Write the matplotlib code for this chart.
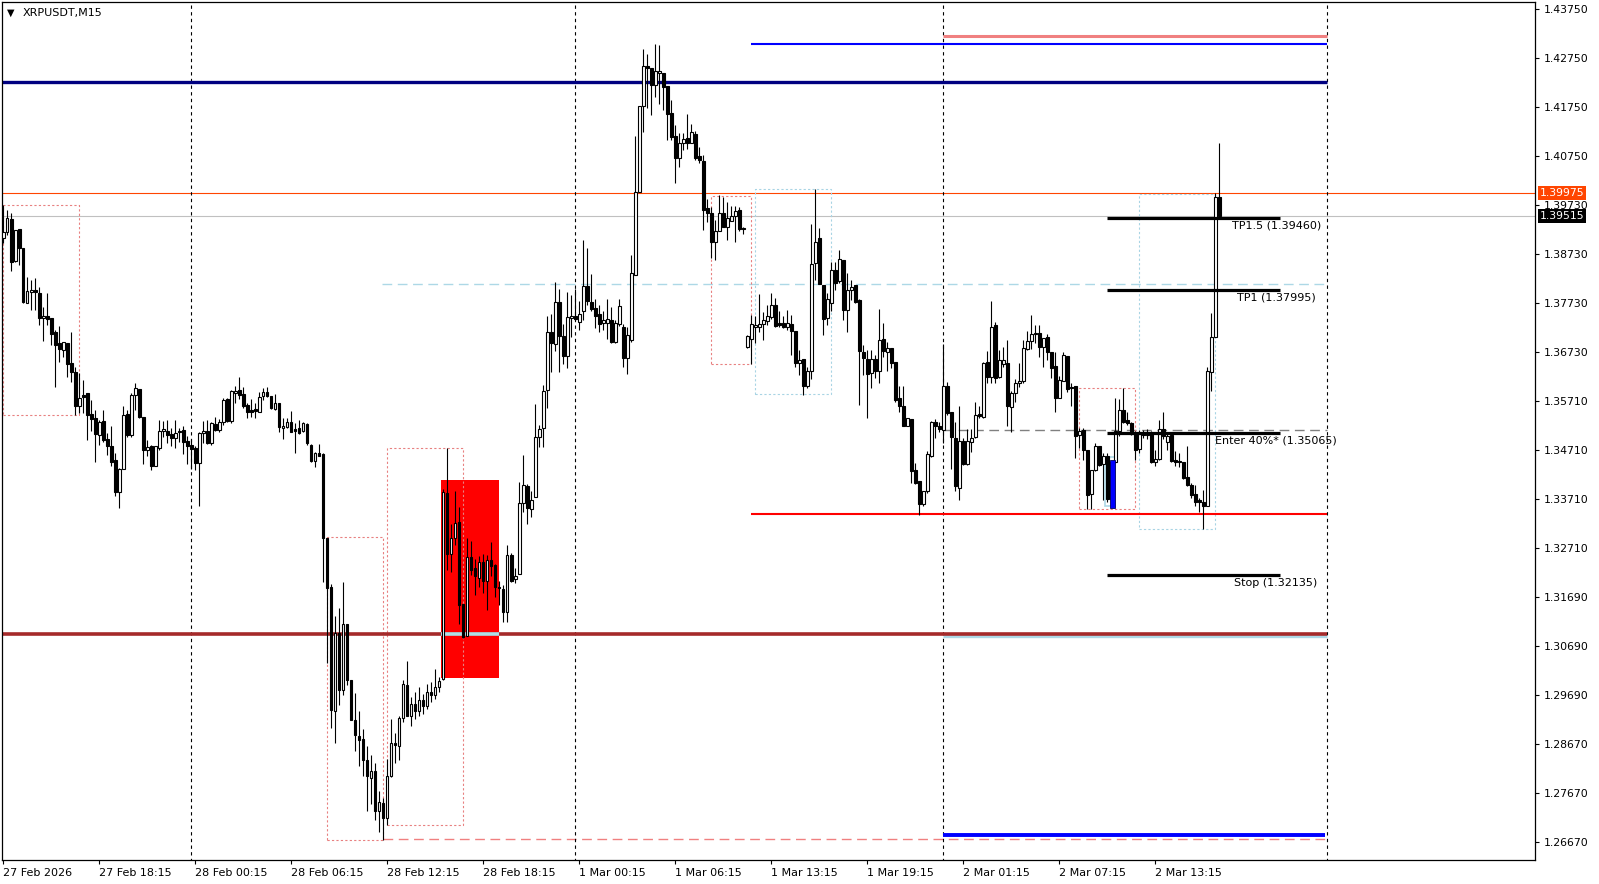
import numpy as np
import matplotlib
matplotlib.use("Agg")
import matplotlib.pyplot as plt
import matplotlib.transforms as mtransforms
from matplotlib.patches import Rectangle

# ====================== DATA (XRPUSDT M15) ======================

opens = [
    1.3906, 1.3917, 1.3944, 1.3858, 1.3923, 1.3884, 1.3773, 1.3794, 1.3799, 1.3792,
    1.3741, 1.3746, 1.3741, 1.3713, 1.3690, 1.3675, 1.3690, 1.3649, 1.3631, 1.3560,
    1.3584, 1.3587, 1.3544, 1.3536, 1.3501, 1.3531, 1.3494, 1.3480, 1.3451, 1.3384,
    1.3432, 1.3545, 1.3502, 1.3583, 1.3596, 1.3539, 1.3470, 1.3479, 1.3439, 1.3475,
    1.3509, 1.3510, 1.3504, 1.3496, 1.3510, 1.3512, 1.3489, 1.3481, 1.3475, 1.3444,
    1.3505, 1.3510, 1.3486, 1.3524, 1.3511, 1.3529, 1.3575, 1.3530, 1.3588, 1.3594,
    1.3586, 1.3563, 1.3553, 1.3554, 1.3549, 1.3581, 1.3590, 1.3581, 1.3554, 1.3567,
    1.3515, 1.3517, 1.3529, 1.3513, 1.3515, 1.3509, 1.3524, 1.3481, 1.3449, 1.3464,
    1.3462, 1.3290, 1.3189, 1.2936, 1.3095, 1.2979, 1.3113, 1.3000, 1.2918, 1.2885,
    1.2878, 1.2836, 1.2798, 1.2813, 1.2730, 1.2747, 1.2716, 1.2803, 1.2870, 1.2863,
    1.2921, 1.2989, 1.2926, 1.2950, 1.2935, 1.2958, 1.2945, 1.2975, 1.2968, 1.2985,
    1.3001, 1.3382, 1.3257, 1.3291, 1.3324, 1.3156, 1.3090, 1.3251, 1.3229, 1.3208,
    1.3242, 1.3203, 1.3246, 1.3235, 1.3190, 1.3186, 1.3139, 1.3255, 1.3207, 1.3216,
    1.3363, 1.3397, 1.3350, 1.3374, 1.3498, 1.3515, 1.3593, 1.3712, 1.3688, 1.3774,
    1.3705, 1.3664, 1.3741, 1.3746, 1.3733, 1.3755, 1.3808, 1.3774, 1.3761, 1.3750,
    1.3731, 1.3731, 1.3737, 1.3693, 1.3729, 1.3722, 1.3659, 1.3697, 1.3829, 1.3999,
    1.4176, 1.4258, 1.4255, 1.4219, 1.4243, 1.4244, 1.4217, 1.4161, 1.4115, 1.4069,
    1.4100, 1.4110, 1.4101, 1.4118, 1.4074, 1.4063, 1.3966, 1.3957, 1.3898, 1.3919,
    1.3957, 1.3928, 1.3941, 1.3951, 1.3963, 1.3925, 1.3683, 1.3698, 1.3724, 1.3724,
    1.3730, 1.3736, 1.3743, 1.3769, 1.3731, 1.3731, 1.3723, 1.3729, 1.3714, 1.3650,
    1.3657, 1.3603, 1.3632, 1.3854, 1.3905, 1.3810, 1.3741, 1.3773, 1.3840, 1.3817,
    1.3860, 1.3757, 1.3798, 1.3809, 1.3778, 1.3671, 1.3657, 1.3628, 1.3657, 1.3632,
    1.3698, 1.3671, 1.3679, 1.3652, 1.3577, 1.3562, 1.3519, 1.3535, 1.3430, 1.3408,
    1.3361, 1.3386, 1.3459, 1.3529, 1.3520, 1.3511, 1.3602, 1.3548, 1.3495, 1.3393,
    1.3490, 1.3442, 1.3487, 1.3497, 1.3545, 1.3539, 1.3652, 1.3621, 1.3727, 1.3620,
    1.3647, 1.3649, 1.3559, 1.3588, 1.3608, 1.3613, 1.3678, 1.3695, 1.3708, 1.3710,
    1.3683, 1.3702, 1.3671, 1.3643, 1.3578, 1.3613, 1.3664, 1.3600, 1.3601, 1.3502,
    1.3512, 1.3471, 1.3381, 1.3430, 1.3478, 1.3443, 1.3458, 1.3370, 1.3447, 1.3509,
    1.3553, 1.3533, 1.3527, 1.3505, 1.3473, 1.3505, 1.3502, 1.3503, 1.3447, 1.3452,
    1.3513, 1.3488, 1.3502, 1.3451, 1.3449, 1.3446, 1.3415, 1.3399, 1.3381, 1.3369,
    1.3364, 1.3356, 1.3630, 1.3702, 1.3990,
]
highs = [
    1.3973, 1.3962, 1.3956, 1.3922, 1.3923, 1.3884, 1.3826, 1.3820, 1.3823, 1.3806,
    1.3765, 1.3792, 1.3741, 1.3717, 1.3725, 1.3692, 1.3690, 1.3713, 1.3642, 1.3628,
    1.3615, 1.3587, 1.3574, 1.3553, 1.3533, 1.3553, 1.3505, 1.3519, 1.3465, 1.3434,
    1.3560, 1.3553, 1.3587, 1.3609, 1.3596, 1.3539, 1.3492, 1.3481, 1.3479, 1.3533,
    1.3531, 1.3533, 1.3516, 1.3533, 1.3516, 1.3519, 1.3500, 1.3493, 1.3478, 1.3507,
    1.3531, 1.3533, 1.3529, 1.3539, 1.3534, 1.3578, 1.3577, 1.3594, 1.3602, 1.3620,
    1.3599, 1.3568, 1.3575, 1.3568, 1.3589, 1.3597, 1.3599, 1.3581, 1.3586, 1.3567,
    1.3536, 1.3536, 1.3550, 1.3526, 1.3532, 1.3529, 1.3526, 1.3484, 1.3467, 1.3483,
    1.3464, 1.3291, 1.3196, 1.3131, 1.3146, 1.3201, 1.3113, 1.3000, 1.2972, 1.2936,
    1.2899, 1.2863, 1.2846, 1.2828, 1.2772, 1.2757, 1.2837, 1.2919, 1.2890, 1.2926,
    1.3000, 1.3039, 1.2965, 1.2975, 1.2985, 1.2970, 1.2990, 1.2995, 1.3022, 1.3005,
    1.3390, 1.3475, 1.3320, 1.3386, 1.3354, 1.3156, 1.3291, 1.3285, 1.3248, 1.3253,
    1.3257, 1.3255, 1.3282, 1.3238, 1.3203, 1.3195, 1.3277, 1.3259, 1.3229, 1.3406,
    1.3460, 1.3402, 1.3386, 1.3565, 1.3522, 1.3604, 1.3746, 1.3750, 1.3815, 1.3800,
    1.3729, 1.3794, 1.3789, 1.3800, 1.3776, 1.3901, 1.3886, 1.3832, 1.3781, 1.3768,
    1.3755, 1.3780, 1.3763, 1.3737, 1.3780, 1.3729, 1.3724, 1.3871, 1.4115, 1.4176,
    1.4293, 1.4283, 1.4255, 1.4303, 1.4301, 1.4244, 1.4217, 1.4189, 1.4137, 1.4120,
    1.4120, 1.4160, 1.4139, 1.4124, 1.4093, 1.4076, 1.3985, 1.3970, 1.3943, 1.3994,
    1.3990, 1.3980, 1.3971, 1.3971, 1.3969, 1.3929, 1.3707, 1.3748, 1.3745, 1.3791,
    1.3753, 1.3769, 1.3792, 1.3782, 1.3756, 1.3745, 1.3758, 1.3748, 1.3714, 1.3676,
    1.3657, 1.3642, 1.3934, 1.4005, 1.3925, 1.3810, 1.3792, 1.3857, 1.3857, 1.3881,
    1.3860, 1.3833, 1.3819, 1.3809, 1.3781, 1.3686, 1.3676, 1.3676, 1.3666, 1.3759,
    1.3731, 1.3693, 1.3679, 1.3652, 1.3601, 1.3602, 1.3536, 1.3535, 1.3444, 1.3408,
    1.3387, 1.3468, 1.3531, 1.3534, 1.3529, 1.3688, 1.3611, 1.3548, 1.3529, 1.3561,
    1.3495, 1.3514, 1.3514, 1.3570, 1.3561, 1.3652, 1.3673, 1.3776, 1.3734, 1.3676,
    1.3683, 1.3697, 1.3591, 1.3616, 1.3649, 1.3697, 1.3714, 1.3748, 1.3727, 1.3727,
    1.3700, 1.3709, 1.3671, 1.3671, 1.3622, 1.3671, 1.3664, 1.3608, 1.3601, 1.3516,
    1.3515, 1.3471, 1.3430, 1.3485, 1.3478, 1.3464, 1.3464, 1.3449, 1.3577, 1.3575,
    1.3598, 1.3548, 1.3529, 1.3509, 1.3512, 1.3512, 1.3513, 1.3509, 1.3471, 1.3533,
    1.3548, 1.3505, 1.3502, 1.3468, 1.3464, 1.3447, 1.3478, 1.3403, 1.3399, 1.3372,
    1.3389, 1.3642, 1.3751, 1.3997, 1.4100,
]
lows = [
    1.3895, 1.3912, 1.3837, 1.3857, 1.3850, 1.3772, 1.3773, 1.3758, 1.3758, 1.3727,
    1.3694, 1.3727, 1.3686, 1.3600, 1.3652, 1.3662, 1.3621, 1.3611, 1.3543, 1.3546,
    1.3546, 1.3492, 1.3509, 1.3447, 1.3481, 1.3488, 1.3461, 1.3437, 1.3377, 1.3352,
    1.3432, 1.3498, 1.3498, 1.3553, 1.3536, 1.3443, 1.3458, 1.3430, 1.3437, 1.3471,
    1.3498, 1.3485, 1.3478, 1.3475, 1.3488, 1.3463, 1.3443, 1.3432, 1.3430, 1.3355,
    1.3485, 1.3483, 1.3481, 1.3509, 1.3507, 1.3522, 1.3529, 1.3527, 1.3568, 1.3575,
    1.3556, 1.3536, 1.3539, 1.3536, 1.3549, 1.3573, 1.3580, 1.3554, 1.3553, 1.3508,
    1.3493, 1.3515, 1.3508, 1.3464, 1.3504, 1.3507, 1.3481, 1.3447, 1.3435, 1.3459,
    1.3201, 1.3035, 1.2901, 1.2870, 1.2948, 1.2969, 1.2989, 1.2918, 1.2853, 1.2822,
    1.2802, 1.2730, 1.2744, 1.2713, 1.2687, 1.2672, 1.2702, 1.2801, 1.2830, 1.2836,
    1.2914, 1.2925, 1.2905, 1.2920, 1.2925, 1.2930, 1.2940, 1.2955, 1.2960, 1.2975,
    1.2999, 1.3225, 1.3221, 1.3277, 1.3113, 1.3085, 1.3090, 1.3214, 1.3173, 1.3190,
    1.3177, 1.3143, 1.3212, 1.3169, 1.3152, 1.3119, 1.3119, 1.3201, 1.3199, 1.3216,
    1.3343, 1.3320, 1.3333, 1.3374, 1.3476, 1.3476, 1.3557, 1.3630, 1.3673, 1.3630,
    1.3647, 1.3638, 1.3703, 1.3737, 1.3716, 1.3737, 1.3768, 1.3755, 1.3720, 1.3712,
    1.3716, 1.3699, 1.3690, 1.3690, 1.3725, 1.3640, 1.3626, 1.3693, 1.3829, 1.3999,
    1.4122, 1.4173, 1.4158, 1.4195, 1.4180, 1.4168, 1.4107, 1.4107, 1.4019, 1.4052,
    1.4085, 1.4089, 1.4100, 1.4066, 1.4059, 1.3922, 1.3939, 1.3864, 1.3861, 1.3919,
    1.3928, 1.3902, 1.3941, 1.3898, 1.3919, 1.3914, 1.3680, 1.3647, 1.3691, 1.3712,
    1.3697, 1.3727, 1.3739, 1.3724, 1.3724, 1.3721, 1.3717, 1.3666, 1.3642, 1.3625,
    1.3584, 1.3598, 1.3616, 1.3820, 1.3811, 1.3707, 1.3727, 1.3755, 1.3799, 1.3813,
    1.3738, 1.3712, 1.3779, 1.3772, 1.3563, 1.3625, 1.3536, 1.3597, 1.3618, 1.3609,
    1.3661, 1.3632, 1.3638, 1.3570, 1.3548, 1.3520, 1.3519, 1.3403, 1.3402, 1.3338,
    1.3355, 1.3382, 1.3457, 1.3495, 1.3507, 1.3486, 1.3543, 1.3432, 1.3386, 1.3369,
    1.3440, 1.3440, 1.3466, 1.3495, 1.3536, 1.3536, 1.3608, 1.3608, 1.3608, 1.3618,
    1.3642, 1.3519, 1.3508, 1.3570, 1.3600, 1.3608, 1.3676, 1.3678, 1.3690, 1.3662,
    1.3642, 1.3656, 1.3618, 1.3548, 1.3577, 1.3613, 1.3589, 1.3560, 1.3454, 1.3475,
    1.3451, 1.3350, 1.3350, 1.3427, 1.3437, 1.3369, 1.3365, 1.3362, 1.3445, 1.3500,
    1.3526, 1.3522, 1.3502, 1.3451, 1.3464, 1.3495, 1.3493, 1.3445, 1.3437, 1.3451,
    1.3493, 1.3471, 1.3447, 1.3437, 1.3436, 1.3411, 1.3397, 1.3372, 1.3355, 1.3343,
    1.3309, 1.3355, 1.3591, 1.3702, 1.3948,
]
closes = [
    1.3917, 1.3946, 1.3857, 1.3922, 1.3884, 1.3775, 1.3797, 1.3799, 1.3794, 1.3742,
    1.3746, 1.3740, 1.3708, 1.3687, 1.3677, 1.3692, 1.3647, 1.3630, 1.3562, 1.3577,
    1.3580, 1.3542, 1.3535, 1.3503, 1.3529, 1.3492, 1.3480, 1.3447, 1.3384, 1.3432,
    1.3543, 1.3502, 1.3583, 1.3598, 1.3539, 1.3470, 1.3477, 1.3439, 1.3479, 1.3510,
    1.3514, 1.3502, 1.3496, 1.3505, 1.3507, 1.3488, 1.3478, 1.3473, 1.3445, 1.3505,
    1.3510, 1.3486, 1.3526, 1.3511, 1.3529, 1.3573, 1.3530, 1.3592, 1.3592, 1.3583,
    1.3560, 1.3548, 1.3549, 1.3550, 1.3579, 1.3590, 1.3581, 1.3556, 1.3567, 1.3517,
    1.3520, 1.3529, 1.3508, 1.3510, 1.3506, 1.3527, 1.3485, 1.3449, 1.3464, 1.3459,
    1.3290, 1.3188, 1.2938, 1.3095, 1.2979, 1.3114, 1.3000, 1.2918, 1.2887, 1.2877,
    1.2836, 1.2802, 1.2813, 1.2730, 1.2749, 1.2716, 1.2803, 1.2871, 1.2865, 1.2921,
    1.2991, 1.2926, 1.2950, 1.2935, 1.2958, 1.2945, 1.2975, 1.2968, 1.2985, 1.2998,
    1.3384, 1.3257, 1.3291, 1.3322, 1.3153, 1.3087, 1.3251, 1.3225, 1.3212, 1.3242,
    1.3203, 1.3245, 1.3233, 1.3190, 1.3188, 1.3139, 1.3255, 1.3203, 1.3213, 1.3363,
    1.3399, 1.3352, 1.3369, 1.3498, 1.3514, 1.3591, 1.3712, 1.3690, 1.3774, 1.3705,
    1.3664, 1.3743, 1.3746, 1.3739, 1.3750, 1.3808, 1.3776, 1.3759, 1.3746, 1.3730,
    1.3737, 1.3739, 1.3693, 1.3731, 1.3766, 1.3659, 1.3707, 1.3833, 1.3999, 1.4176,
    1.4258, 1.4255, 1.4219, 1.4248, 1.4247, 1.4216, 1.4159, 1.4113, 1.4070, 1.4101,
    1.4109, 1.4100, 1.4122, 1.4070, 1.4066, 1.3963, 1.3956, 1.3898, 1.3919, 1.3957,
    1.3928, 1.3946, 1.3951, 1.3961, 1.3924, 1.3923, 1.3704, 1.3729, 1.3728, 1.3730,
    1.3738, 1.3746, 1.3769, 1.3726, 1.3727, 1.3724, 1.3731, 1.3714, 1.3649, 1.3656,
    1.3603, 1.3633, 1.3852, 1.3898, 1.3811, 1.3739, 1.3780, 1.3840, 1.3814, 1.3862,
    1.3757, 1.3798, 1.3804, 1.3775, 1.3673, 1.3659, 1.3626, 1.3657, 1.3632, 1.3697,
    1.3673, 1.3679, 1.3650, 1.3574, 1.3560, 1.3521, 1.3536, 1.3427, 1.3403, 1.3361,
    1.3387, 1.3462, 1.3529, 1.3520, 1.3513, 1.3602, 1.3546, 1.3497, 1.3396, 1.3490,
    1.3442, 1.3490, 1.3495, 1.3543, 1.3541, 1.3649, 1.3621, 1.3724, 1.3618, 1.3656,
    1.3655, 1.3560, 1.3587, 1.3608, 1.3613, 1.3680, 1.3695, 1.3709, 1.3711, 1.3682,
    1.3700, 1.3671, 1.3639, 1.3578, 1.3615, 1.3665, 1.3596, 1.3598, 1.3499, 1.3510,
    1.3471, 1.3379, 1.3430, 1.3478, 1.3440, 1.3458, 1.3370, 1.3447, 1.3509, 1.3553,
    1.3529, 1.3527, 1.3504, 1.3470, 1.3504, 1.3502, 1.3505, 1.3447, 1.3452, 1.3513,
    1.3500, 1.3500, 1.3449, 1.3447, 1.3447, 1.3413, 1.3399, 1.3379, 1.3365, 1.3365,
    1.3356, 1.3632, 1.3702, 1.3989, 1.39515,
]

date_labels = ["27 Feb 2026", "27 Feb 18:15", "28 Feb 00:15", "28 Feb 06:15",
               "28 Feb 12:15", "28 Feb 18:15", "1 Mar 00:15", "1 Mar 06:15",
               "1 Mar 13:15", "1 Mar 19:15", "2 Mar 01:15", "2 Mar 07:15",
               "2 Mar 13:15"]
date_bars = [0, 24, 48, 72, 96, 120, 144, 168, 192, 216, 240, 264, 288]
separator_bars = [47, 143, 235, 331]

price_labels = ["1.43750", "1.42750", "1.41750", "1.40750", "1.39730", "1.38730",
                "1.37730", "1.36730", "1.35710", "1.34710", "1.33710", "1.32710",
                "1.31690", "1.30690", "1.29690", "1.28670", "1.27670", "1.26670"]

# horizontal levels drawn on the chart
navy_level = 1.4226
blue_top_level = 1.4304
pink_top_level = 1.4320
ask_level = 1.39975
bid_level = 1.39515
cyan_dash_level = 1.3812
grey_dash_level = 1.3511
red_level = 1.3340
brown_level = 1.3093
cyan_under_level = 1.3089
blue_bottom_level = 1.2681
pink_dash_level = 1.2673

# trade plan levels
plan_names = ["TP1.5", "TP1", "Enter 40%*", "Stop"]
plan_levels = [1.39460, 1.37995, 1.35065, 1.32135]

# zones: (first bar, last bar, low price, high price)
pink_zones = [(-0.2, 19, 1.3542, 1.3973), (81, 95, 1.2672, 1.3292),
              (96, 115, 1.2702, 1.3475), (177, 187, 1.3647, 1.3992),
              (269, 283, 1.3350, 1.3597)]
cyan_zones = [(188, 207, 1.3585, 1.4005), (284, 303, 1.3309, 1.3995)]
red_block = (110, 124, 1.3003, 1.3409)
blue_block = (275.8, 277.9, 1.3355, 1.3457)

# ====================== FIGURE ======================

plt.rcParams['font.family'] = ['DejaVu Sans']

W, H = 1599, 884
fig = plt.figure(figsize=(W / 100, H / 100), dpi=100)
ax = fig.add_axes([2 / W, 24 / H, 1533 / W, 858 / H])
ax.set_xlim(-0.35, 382.9)
ax.set_ylim(1.26301, 1.43894)

for sp in ax.spines.values():
    sp.set_linewidth(0.9)
    sp.set_color('black')

# ====== zones behind candles ======
b0, b1, p0, p1 = red_block
ax.add_patch(Rectangle((b0 - 0.5, p0), b1 - b0 + 0.5, p1 - p0, facecolor='#ff0000',
                       edgecolor='none', zorder=1))
for b0, b1, p0, p1 in pink_zones:
    ax.add_patch(Rectangle((b0, p0), b1 - b0, p1 - p0, fill=False, edgecolor='#e88080',
                           lw=0.8, ls=(0, (2, 2)), zorder=1.5))
for b0, b1, p0, p1 in cyan_zones:
    ax.add_patch(Rectangle((b0, p0), b1 - b0, p1 - p0, fill=False, edgecolor='#a8d4e4',
                           lw=0.8, ls=(0, (2, 2)), zorder=1.5))

# ====== horizontal levels ======
ax.axhline(ask_level, color='#ff4500', lw=0.8, zorder=1.2)
ax.axhline(bid_level, color='#c0c0c0', lw=0.8, zorder=1.2)
ax.hlines(navy_level, -1, 331, color='#000080', lw=2.4, zorder=2)
ax.hlines(blue_top_level, 187, 331, color='#0000ff', lw=1.5, zorder=2)
ax.hlines(pink_top_level, 235, 331, color='#f08080', lw=2.2, zorder=2)
ax.hlines(cyan_dash_level, 94.7, 331, color='#add8e6', lw=1.0, ls=(0, (7, 4)), zorder=1.3)
ax.hlines(grey_dash_level, 235, 331, color='#808080', lw=1.0, ls=(0, (7, 4)), zorder=1.3)
ax.hlines(red_level, 187, 331, color='#ff0000', lw=1.5, zorder=2)
ax.hlines(cyan_under_level, 235, 331, color='#add8e6', lw=2.4, zorder=1.9)
ax.hlines(brown_level, -1, 331, color='#a52a2a', lw=2.6, zorder=2)
ax.hlines(brown_level, 109.5, 124, color='#b0e0e6', lw=2.6, zorder=2.1)
ax.hlines(blue_bottom_level, 235, 330.5, color='#0000ff', lw=2.8, zorder=2)
ax.hlines(pink_dash_level, 95, 331, color='#f08080', lw=1.0, ls=(0, (7, 4)), zorder=1.3)

# period separators
ax.vlines(separator_bars, 1.26, 1.45, color='black', lw=0.8, ls=(0, (3, 3)), zorder=1.4)

# ====== candles ======
o = np.array(opens)
h = np.array(highs)
l = np.array(lows)
c = np.array(closes)
x = np.arange(len(o))
ax.vlines(x, l, h, color='black', lw=0.8, zorder=3)
body_low = np.minimum(o, c)
body_h = np.maximum(np.abs(c - o), 0.00004)
face = np.where(c >= o, 'white', 'black')
ax.bar(x, body_h, bottom=body_low, width=0.55, color=face, edgecolor='black',
       linewidth=0.8, zorder=4)

# small blue block over the two candles
b0, b1, p0, p1 = blue_block
ax.add_patch(Rectangle((b0 - 0.3, p0), b1 - b0 + 0.3, p1 - p0, facecolor='none',
                       edgecolor='#add8e6', lw=1.2, zorder=3.5))
ax.add_patch(Rectangle((b0 + 0.75, p0 - 0.0003), b1 - b0 - 0.75, p1 - p0 - 0.0003,
                       facecolor='#0000ff', edgecolor='#000060', lw=0.6, zorder=4.5))

# ====== trade plan lines and texts ======
text_right = [329.4, 328.0, 333.3, 328.5]
for name, lvl, xr in zip(plan_names, plan_levels, text_right):
    ax.hlines(lvl, 275.8, 319.1, color='black', lw=2.3, zorder=5)
    ax.text(xr, lvl - 0.00055, "%s (%.5f)" % (name, lvl), ha='right', va='top',
            fontsize=8, color='black', zorder=6)

# ====== axes ticks ======
ax.set_xticks(date_bars)
ax.set_xticklabels(date_labels, ha='left', fontsize=8)
ax.tick_params(axis='x', direction='out', length=3, width=0.8, pad=3)

ax.yaxis.tick_right()
ax.set_yticks(np.linspace(1.4375, 1.2667, len(price_labels)))
ax.set_yticklabels(price_labels, fontsize=7.8)
ax.tick_params(axis='y', direction='out', length=3, width=0.8, pad=3)

# current price boxes on the axis
trans = mtransforms.blended_transform_factory(ax.transAxes, ax.transData)
ax.text(1.003, ask_level, "1.39975", transform=trans, ha='left', va='center',
        fontsize=7.8, color='white', zorder=10, clip_on=False,
        bbox=dict(boxstyle='square,pad=0.18', fc='#ff4500', ec='none'))
ax.text(1.003, bid_level, "1.39515", transform=trans, ha='left', va='center',
        fontsize=7.8, color='white', zorder=10, clip_on=False,
        bbox=dict(boxstyle='square,pad=0.18', fc='black', ec='none'))

# symbol title
ax.text(0.0032, 0.987, "\u25bc", transform=ax.transAxes, fontsize=7, va='center',
        ha='left', color='black')
ax.text(0.0135, 0.987, "XRPUSDT,M15", transform=ax.transAxes, fontsize=8, va='center',
        ha='left', color='black')

fig.savefig("out.png", dpi=100)
